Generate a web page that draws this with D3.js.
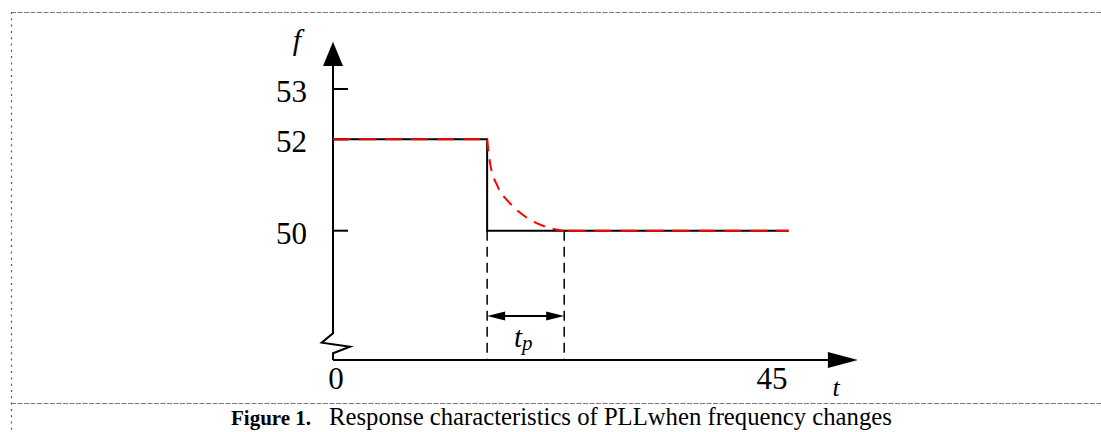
<!DOCTYPE html>
<html>
<head>
<meta charset="utf-8">
<script src="https://cdn.jsdelivr.net/npm/d3@7"></script>
<style>
  html, body { margin: 0; padding: 0; background: #fff; }
  svg { display: block; }
  text { font-family: "Liberation Serif", "Times New Roman", serif; fill: #000; }
</style>
</head>
<body>
<div id="chart"></div>
<script>
// Data
const yTicks = [53, 52, 50];
const xTickLabels = [0, 45];
const tStep = 15.8;      // frequency step moment
const tSettle = 23.7;    // PLL output settles (end of t_p)
const tEnd = 46.7;       // end of plotted lines
const tAxisEnd = 53.8;   // tip of t axis arrow

// actual frequency (black, solid)
const actualT = [0, tStep, tStep, tEnd];
const actualF = [52, 52, 50, 50];

// PLL output (red, dashed): flat, decay, flat
const pllFlatT = [0, tStep];
const pllFlatF = [52, 52];
const pllDecayT = [15.8, 16.1, 16.9, 18.1, 19.9, 21.9, 23.7];
const pllDecayF = [52.0, 51.48, 50.96, 50.61, 50.28, 50.08, 50.0];
const pllTailT = [tSettle, tEnd];
const pllTailF = [50, 50];

const W = 1101, H = 432;
const axisY = 360;       // t axis (below broken f axis)
const fTop = 41.7;       // tip of f axis arrow

const svg = d3.select('#chart').append('svg')
  .attr('width', W).attr('height', H);

// Frame
svg.append('line').attr('x1', 11).attr('y1', 12.5).attr('x2', W).attr('y2', 12.5)
  .attr('stroke', '#7a7a7a').attr('stroke-width', 1).attr('stroke-dasharray', '5,1.5');
svg.append('line').attr('x1', 11).attr('y1', 403.5).attr('x2', W).attr('y2', 403.5)
  .attr('stroke', '#7a7a7a').attr('stroke-width', 1).attr('stroke-dasharray', '5,1.5');
svg.append('line').attr('x1', 11.5).attr('y1', 12).attr('x2', 11.5).attr('y2', H)
  .attr('stroke', '#555').attr('stroke-width', 1.2).attr('stroke-dasharray', '2,4.3');

// Scales (f axis is schematic, so piecewise)
const x = d3.scaleLinear().domain([0, 45]).range([333, 772]);
const y = d3.scaleLinear().domain([50, 52, 53]).range([230.7, 139.3, 89]);
const x0 = x(0);

const g = svg.append('g');

// f axis with break symbol
g.append('path')
  .attr('d', `M${x0},${fTop + 20} L${x0},333.3 L321.7,342.7 L350,346.7 L${x0},353.3 L${x0},${axisY}`)
  .attr('fill', 'none').attr('stroke', '#000').attr('stroke-width', 2);
g.append('path')
  .attr('d', `M${x0},${fTop} L${x0 - 10},66 L${x0 + 10},66 Z`)
  .attr('fill', '#000');

// t axis
g.append('line').attr('x1', x0).attr('y1', axisY).attr('x2', x(tAxisEnd) - 20).attr('y2', axisY)
  .attr('stroke', '#000').attr('stroke-width', 2);
g.append('path')
  .attr('d', `M${x(tAxisEnd)},${axisY} L${x(tAxisEnd) - 30},${axisY - 8} L${x(tAxisEnd) - 30},${axisY + 8} Z`)
  .attr('fill', '#000');

// f ticks and labels
g.selectAll('.ytick').data(yTicks).join('line')
  .attr('class', 'ytick')
  .attr('x1', x0).attr('x2', x0 + 15)
  .attr('y1', d => y(d)).attr('y2', d => y(d))
  .attr('stroke', '#000').attr('stroke-width', 2);
g.selectAll('.ylab').data(yTicks).join('text')
  .attr('class', 'ylab')
  .attr('x', 307).attr('y', d => y(d) + 2)
  .attr('dy', '0.35em')
  .attr('text-anchor', 'end')
  .style('font-size', '31px')
  .text(d => d);

// t tick labels
g.selectAll('.xlab').data(xTickLabels).join('text')
  .attr('class', 'xlab')
  .attr('x', d => x(d) + (d === 0 ? 3 : 0)).attr('y', 378)
  .attr('dy', '0.35em')
  .attr('text-anchor', 'middle')
  .style('font-size', '31px')
  .text(d => d);

// axis names
g.append('text').attr('x', 297).attr('y', 50).attr('text-anchor', 'middle')
  .style('font-size', '30px').style('font-style', 'italic').text('f');
g.append('text').attr('x', 836).attr('y', 396).attr('text-anchor', 'middle')
  .style('font-size', '26px').style('font-style', 'italic').text('t');

// t_p guides
g.selectAll('.guide').data([tStep, tSettle]).join('line')
  .attr('class', 'guide')
  .attr('x1', d => x(d)).attr('x2', d => x(d))
  .attr('y1', y(50)).attr('y2', axisY)
  .attr('stroke', '#000').attr('stroke-width', 1.5).attr('stroke-dasharray', '10,6');

const arrowY = 316;
g.append('line').attr('x1', x(tStep) + 6).attr('x2', x(tSettle) - 6)
  .attr('y1', arrowY).attr('y2', arrowY)
  .attr('stroke', '#000').attr('stroke-width', 2);
g.append('path')
  .attr('d', `M${x(tStep)},${arrowY} L${x(tStep) + 18},${arrowY - 4.5} L${x(tStep) + 18},${arrowY + 4.5} Z`)
  .attr('fill', '#000');
g.append('path')
  .attr('d', `M${x(tSettle)},${arrowY} L${x(tSettle) - 18},${arrowY - 4.5} L${x(tSettle) - 18},${arrowY + 4.5} Z`)
  .attr('fill', '#000');

const tp = g.append('text').attr('x', 514).attr('y', 347)
  .style('font-size', '29px').style('font-style', 'italic');
tp.append('tspan').text('t');
tp.append('tspan').attr('dy', 3).style('font-size', '21px').text('p');

// series
const line = d3.line().x(d => x(d[0])).y(d => y(d[1]));
const zip = (ts, fs) => ts.map((t, i) => [t, fs[i]]);

g.append('path').datum(zip(actualT, actualF))
  .attr('d', line)
  .attr('fill', 'none').attr('stroke', '#000').attr('stroke-width', 2);

const red = g.append('g')
  .attr('fill', 'none').attr('stroke', '#ff0000').attr('stroke-width', 2)
  .attr('stroke-dasharray', '17,9');
red.append('path').datum(zip(pllFlatT, pllFlatF)).attr('d', line);
red.append('path').datum(zip(pllDecayT, pllDecayF))
  .attr('d', line.curve(d3.curveMonotoneX)).attr('stroke-dasharray', '12,8');
line.curve(d3.curveLinear);
red.append('path').datum(zip(pllTailT, pllTailF)).attr('d', line)
  .attr('stroke-dashoffset', -4);

// caption
const cap = svg.append('text').attr('x', 231).attr('y', 425);
cap.append('tspan').style('font-weight', 'bold').style('font-size', '21px').text('Figure 1.');
cap.append('tspan').attr('x', 329).style('font-size', '24.7px')
  .text('Response characteristics of PLLwhen frequency changes');
</script>
</body>
</html>
